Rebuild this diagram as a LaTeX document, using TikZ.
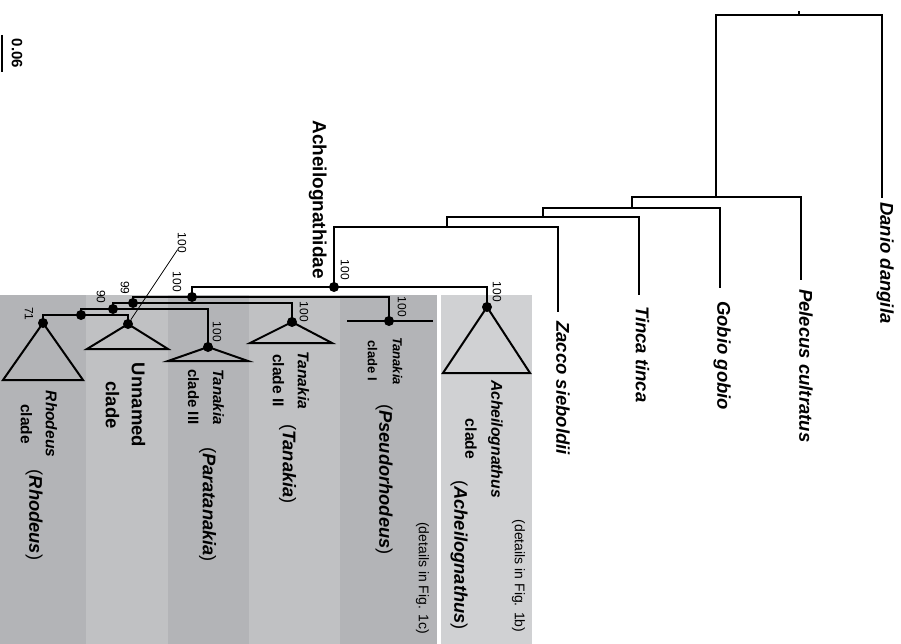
\documentclass[tikz,border=0pt]{standalone}
\usepackage{fontspec}
\setmainfont{Liberation Sans}
\usepackage{tikz}
\definecolor{stripedark}{RGB}{179,180,183}
\definecolor{stripelight}{RGB}{192,193,195}
\definecolor{stripepale}{RGB}{208,209,211}
\tikzstyle{branch} = [line width=2pt, black]
\tikzstyle{leader} = [line width=0.7pt, black]

\begin{document}
\begin{tikzpicture}[
        x=1pt, y=-1pt,
        dot/.style={circle, fill=black, minimum size=10pt, inner sep=0pt},
        species/.style={rotate=-90, anchor=mid west, inner sep=0pt,
            font=\fontsize{18.5}{22}\selectfont\bfseries\itshape},
        cladeblk/.style={rotate=-90, align=center, inner sep=0pt},
        genus/.style={rotate=-90, inner sep=0pt,
            font=\fontsize{18.3}{22}\selectfont},
        support/.style={rotate=-90, inner sep=0pt,
            font=\fontsize{12}{14}\selectfont},
        details/.style={rotate=-90, inner sep=0pt,
            font=\fontsize{14}{16}\selectfont},
        clade/.style={line width=2pt, line join=miter}
    ]
    \useasboundingbox (0,0) rectangle (901,644);
    % shaded columns
    \fill[stripedark]  (0,295)   rectangle (86,644);
    \fill[stripelight] (86,295)  rectangle (168,644);
    \fill[stripedark]  (168,295) rectangle (249,644);
    \fill[stripelight] (249,295) rectangle (340,644);
    \fill[stripedark]  (340,295) rectangle (437,644);
    \fill[stripepale]  (441,295) rectangle (532,644);

    % tree points
    \coordinate (root)       at (799,15);
    \coordinate (rootStem)   at (799,11);
    \coordinate (danioTip)   at (882,198);
    \coordinate (n1)         at (716,197);
    \coordinate (pelecusTip) at (801,280);
    \coordinate (n2)         at (632,208);
    \coordinate (gobioTip)   at (720,288);
    \coordinate (n3)         at (543,217);
    \coordinate (tincaTip)   at (639,295);
    \coordinate (n4)         at (447,227);
    \coordinate (zaccoTip)   at (558,312);
    \node (ach)      [dot] at (334,287) {};
    \node (achClade) [dot] at (487,307) {};
    \node (na)       [dot] at (192,297) {};
    \node (tanI)     [dot] at (389,321) {};
    \node (nb)       [dot] at (133,303) {};
    \node (tanII)    [dot] at (292,322) {};
    \node (nc)       [dot] at (113,309) {};
    \node (tanIII)   [dot] at (208,347) {};
    \node (nd)       [dot] at (81,315)  {};
    \node (rhod)     [dot] at (43,323)  {};
    \node (unnamed)  [dot] at (128,324) {};

    % branches
    \draw [branch] (root) -- (rootStem);
    \draw [branch] (root) -| (danioTip);
    \draw [branch] (root) -| (n1);
    \draw [branch] (n1) -| (pelecusTip);
    \draw [branch] (n1) -| (n2);
    \draw [branch] (n2) -| (gobioTip);
    \draw [branch] (n2) -| (n3);
    \draw [branch] (n3) -| (tincaTip);
    \draw [branch] (n3) -| (n4);
    \draw [branch] (n4) -| (zaccoTip);
    \draw [branch] (n4) -| (ach.center);
    \draw [branch] (ach.center) -| (achClade.center);
    \draw [branch] (ach.center) -| (na.center);
    \draw [branch] (na.center) -| (tanI.center);
    \draw [branch] (na.center) -| (nb.center);
    \draw [branch] (nb.center) -| (tanII.center);
    \draw [branch] (nb.center) -| (nc.center);
    \draw [branch] (nc.center) -| (tanIII.center);
    \draw [branch] (nc.center) -| (nd.center);
    \draw [branch] (nd.center) -| (rhod.center);
    \draw [branch] (nd.center) -| (unnamed.center);

    % collapsed clades
    \draw [clade] (rhod.center) -- ++(-40,57) -- ++(80,0) -- cycle;
    \draw [clade] (unnamed.center) -- ++(-41,25) -- ++(81,0) -- cycle;
    \draw [clade] (tanIII.center) -- ++(-40,14) -- ++(80,0) -- cycle;
    \draw [clade] (tanII.center) -- ++(-42,21) -- ++(82,0) -- cycle;
    \draw [clade] ([xshift=-42pt]tanI.center) -- ([xshift=44pt]tanI.center);
    \draw [clade] (achClade.center) -- ++(-44,66) -- ++(87,0) -- cycle;

    % scale bar
    \coordinate (scaleTop) at (2,35);
    \coordinate (scaleBot) at (2,72);
    \draw [line width=2.5pt] (scaleTop) -- (scaleBot);
    \node (scaleLab) [rotate=-90, inner sep=0pt,
        font=\fontsize{15}{18}\selectfont\bfseries] at (17,53.5) {0.06};

    % species
    \node (danio)   [species] at (883,202) {Danio dangila};
    \node (pelecus) [species] at (802,289) {Pelecus cultratus};
    \node (gobio)   [species] at (720,301) {Gobio gobio};
    \node (tinca)   [species] at (638.5,306) {Tinca tinca};
    \node (zacco)   [species] at (559,321) {Zacco sieboldii};
    \node (family) [rotate=-90, anchor=mid east, inner sep=0pt,
        font=\fontsize{19}{22}\selectfont\bfseries] at (315.5,279)
        {Acheilognathidae};

    % clade names
    \node (rhodblk) [cladeblk, font=\fontsize{15.5}{25}\selectfont\bfseries]
        at (39,424) {\textit{Rhodeus}\\clade};
    \node (unnblk) [cladeblk, font=\fontsize{18.5}{26}\selectfont\bfseries]
        at (125.5,405) {Unnamed\\clade};
    \node (tanIIIblk) [cladeblk, font=\fontsize{15}{25}\selectfont\bfseries]
        at (206,397) {\textit{Tanakia}\\clade III};
    \node (tanIIblk) [cladeblk, font=\fontsize{15.6}{25}\selectfont\bfseries]
        at (291,380.5) {\textit{Tanakia}\\clade II};
    \node (tanIblk) [cladeblk, font=\fontsize{13}{25}\selectfont\bfseries]
        at (385,361) {\textit{Tanakia}\\clade I};
    \node (achblk) [cladeblk, font=\fontsize{15.7}{26}\selectfont\bfseries]
        at (484,439) {\textit{Acheilognathus}\\clade};

    % genera
    \node (rhodgen)   [genus] at (34,515)    {(\textbf{\textit{Rhodeus}})};
    \node (tanIIIgen) [genus] at (207.5,504.5) {(\textbf{\textit{Paratanakia}})};
    \node (tanIIgen)  [genus] at (287.5,464) {(\textbf{\textit{Tanakia}})};
    \node (tanIgen)   [genus] at (384,479.5) {(\textbf{\textit{Pseudorhodeus}})};
    \node (achgen)    [genus] at (459,555)   {(\textbf{\textit{Acheilognathus}})};
    \node (detailsC)  [details] at (422.5,578) {(details in Fig. 1c)};
    \node (detailsB)  [details] at (518.5,576) {(details in Fig. 1b)};

    % support values
    \node (achSup)      [support] at (345,270) {100};
    \node (achCladeSup) [support] at (497,292) {100};
    \node (tanISup)     [support] at (402,307) {100};
    \node (tanIISup)    [support] at (304,312) {100};
    \node (tanIIISup)   [support] at (217,332) {100};
    \node (naSup)       [support] at (177,282) {100};
    \node (unnSup)      [support] at (182,243) {100};
    \node (nbSup)       [support] at (125,288) {99};
    \node (ncSup)       [support] at (101,297) {90};
    \node (rhodSup)     [support] at (29,314)  {71};
    \draw [leader] (unnSup) -- (unnamed);
\end{tikzpicture}
\end{document}
